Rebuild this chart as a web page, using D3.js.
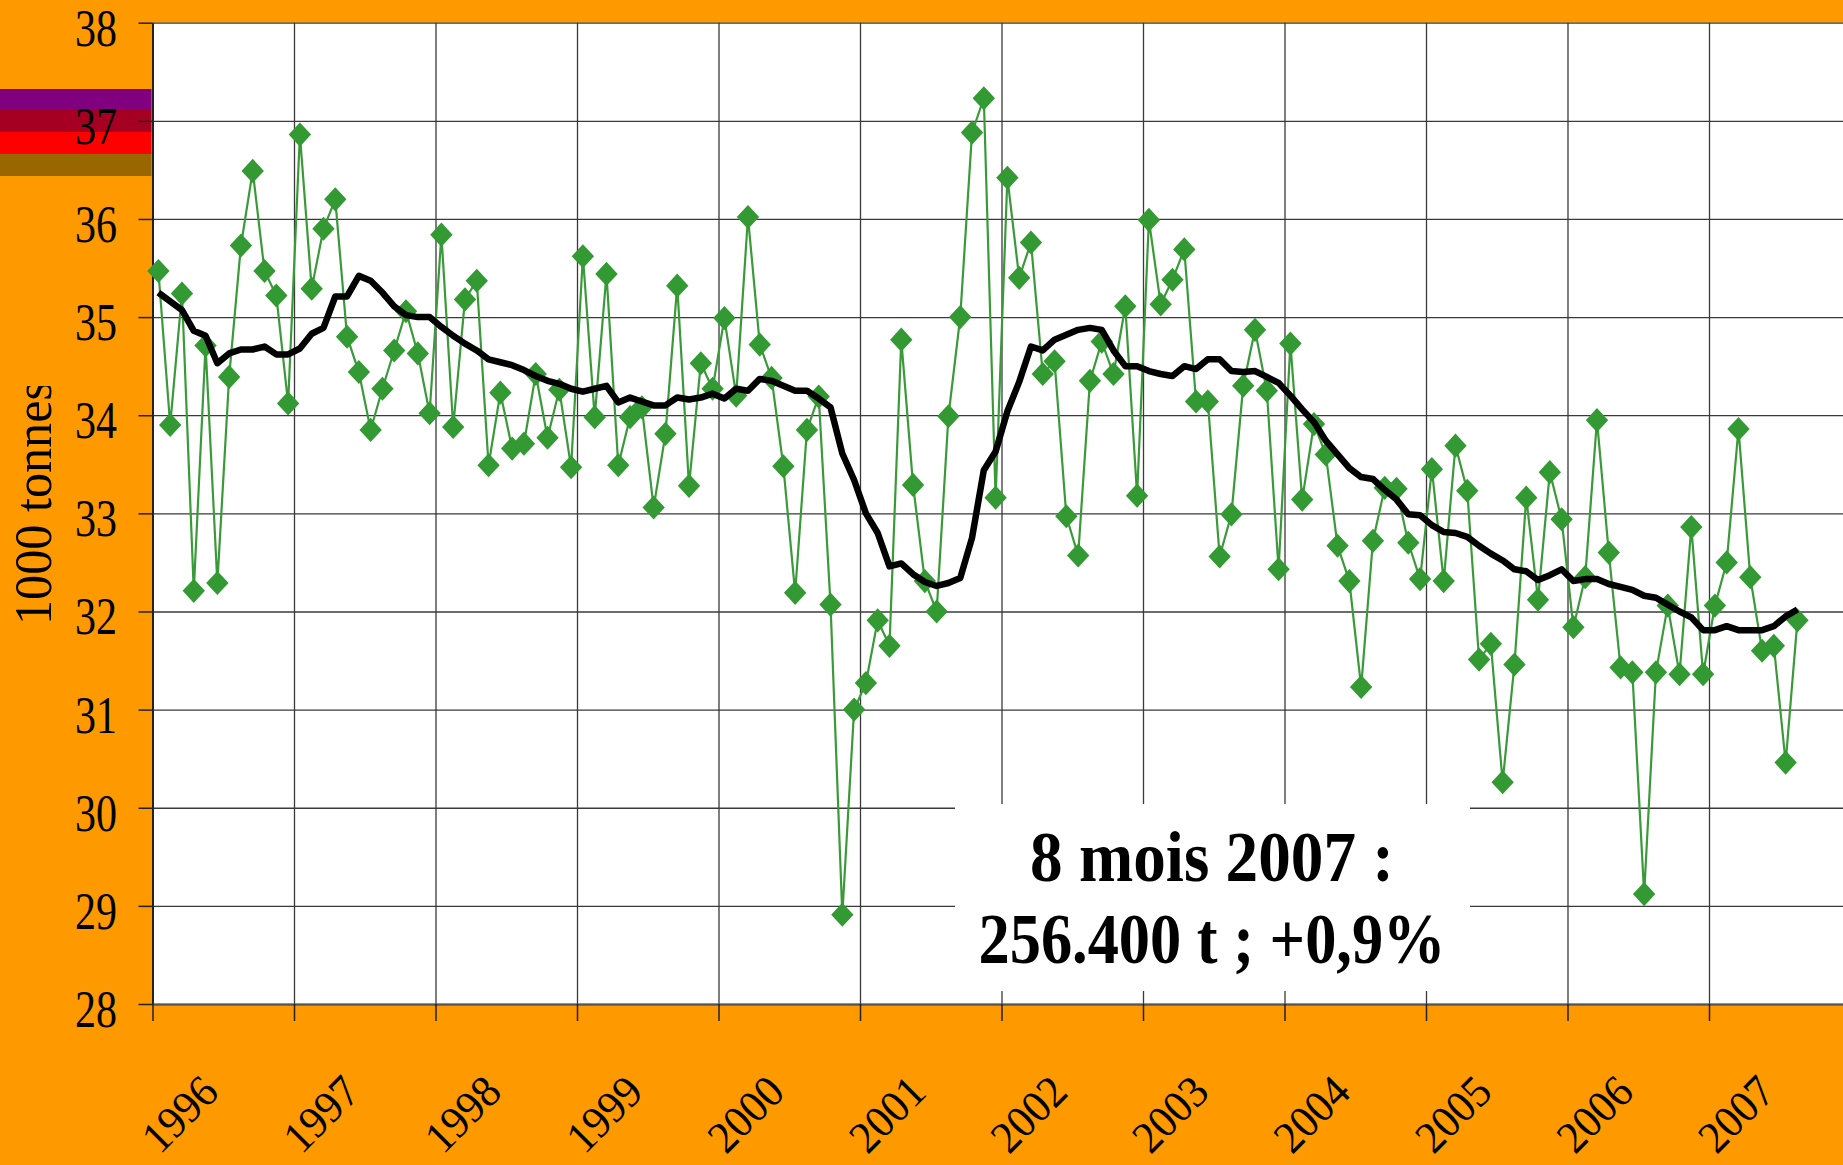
<!DOCTYPE html>
<html>
<head>
<meta charset="utf-8">
<script src="https://d3js.org/d3.v7.min.js"></script>
<style>
  body { margin: 0; background: #ff9900; }
  svg { display: block; }
</style>
</head>
<body>
<div class="vis"></div>
<script>
  // tick labels
  const years = ["1996", "1997", "1998", "1999", "2000", "2001", "2002", "2003", "2004", "2005", "2006", "2007"];
  const yTicks = [28, 29, 30, 31, 32, 33, 34, 35, 36, 37, 38];

  // monthly tonnage, Jan 1996 -> Aug 2007 (1000 t)
  const tonnage = [
    35.47, 33.90, 35.24, 32.21, 34.71, 32.29, 34.39, 35.73, 36.49, 35.47, 35.22, 34.12,
    36.86, 35.29, 35.90, 36.20, 34.80, 34.44, 33.85, 34.27, 34.66, 35.06, 34.63, 34.02,
    35.84, 33.88, 35.18, 35.37, 33.49, 34.23, 33.66, 33.71, 34.42, 33.77, 34.26, 33.47,
    35.62, 33.98, 35.44, 33.49, 33.98, 34.08, 33.06, 33.81, 35.32, 33.28, 34.53, 34.27,
    34.99, 34.20, 36.02, 34.72, 34.38, 33.48, 32.19, 33.85, 34.19, 32.07, 28.91, 31.00,
    31.27, 31.91, 31.65, 34.77, 33.29, 32.31, 32.00, 33.99, 35.00, 36.88, 37.23, 33.16,
    36.42, 35.40, 35.76, 34.42, 34.55, 32.97, 32.57, 34.35, 34.75, 34.42, 35.11, 33.18,
    35.99, 35.13, 35.38, 35.69, 34.14, 34.14, 32.56, 32.99, 34.30, 34.87, 34.25, 32.43,
    34.73, 33.14, 33.91, 33.60, 32.67, 32.31, 31.23, 32.72, 33.26, 33.25, 32.70, 32.33,
    33.45, 32.31, 33.69, 33.23, 31.51, 31.67, 30.26, 31.46, 33.16, 32.12, 33.42, 32.94,
    31.84, 32.35, 33.95, 32.60, 31.43, 31.38, 29.12, 31.38, 32.06, 31.36, 32.86, 31.36,
    32.06, 32.50, 33.86, 32.35, 31.60, 31.65, 30.46, 31.91
  ];

  // 12-month moving average
  const moyenne = [
    35.25, 35.16, 35.07, 34.86, 34.81, 34.53, 34.63, 34.67, 34.67, 34.70, 34.62, 34.62,
    34.68, 34.83, 34.89, 35.21, 35.21, 35.42, 35.37, 35.25, 35.11, 35.02, 35.00, 35.00,
    34.90, 34.81, 34.73, 34.66, 34.57, 34.54, 34.51, 34.46, 34.40, 34.35, 34.32, 34.27,
    34.24, 34.27, 34.30, 34.13, 34.18, 34.14, 34.10, 34.10, 34.18, 34.16, 34.18, 34.22,
    34.17, 34.27, 34.25, 34.37, 34.35, 34.30, 34.25, 34.25, 34.17, 34.08, 33.61, 33.34,
    33.00, 32.80, 32.46, 32.49, 32.38, 32.30, 32.26, 32.29, 32.34, 32.75, 33.44, 33.63,
    34.04, 34.34, 34.70, 34.66, 34.77, 34.82, 34.87, 34.89, 34.87, 34.66, 34.50, 34.50,
    34.45, 34.42, 34.40, 34.50, 34.47, 34.57, 34.57, 34.45, 34.44, 34.45, 34.39, 34.33,
    34.20, 34.06, 33.93, 33.74, 33.60, 33.46, 33.37, 33.35, 33.24, 33.14, 32.99, 32.98,
    32.88, 32.81, 32.80, 32.76, 32.67, 32.59, 32.52, 32.43, 32.41, 32.32, 32.37, 32.43,
    32.31, 32.33, 32.33, 32.28, 32.25, 32.22, 32.16, 32.14, 32.07, 32.00, 31.94, 31.81,
    31.81, 31.85, 31.81, 31.81, 31.81, 31.85, 31.95, 32.02
  ];

  const note = ["8 mois 2007 :", "256.400 t ; +0,9%"];
  const yTitle = "1000 tonnes";

  const W = 1843, H = 1165;
  const plotLeft = 152.5, plotTop = 22.7, plotBottom = 1004;
  const monthW = 141.5 / 12;
  const serif = "'Liberation Serif', 'Times New Roman', serif";

  const x = d3.scaleLinear().domain([0, 144]).range([plotLeft, plotLeft + 144 * monthW]);
  const y = d3.scaleLinear().domain([28, 38]).range([plotBottom, plotTop]);

  let svg = d3.select('.vis').append('svg')
    .attr("width", W).attr("height", H)
    .attr("viewBox", [0, 0, W, H]);

  svg.append("rect").attr("width", W).attr("height", H).attr("fill", "#ff9900");

  // plot area
  svg.append("rect")
    .attr("x", plotLeft).attr("y", plotTop)
    .attr("width", W - plotLeft).attr("height", plotBottom - plotTop)
    .attr("fill", "#fff");

  // leftover legend colour bands at the top left
  const bands = [["#800080", 89, 110], ["#a50021", 110, 132], ["#ff0000", 132, 154], ["#996600", 154, 176]];
  svg.selectAll("rect.band")
    .data(bands)
    .join("rect")
    .attr("class", "band")
    .attr("x", 0).attr("y", d => d[1])
    .attr("width", plotLeft - 1).attr("height", d => d[2] - d[1])
    .attr("fill", d => d[0]);

  // gridlines
  const yearIdx = years.map((d, i) => i * 12);
  svg.append("g")
    .attr("transform", `translate(${plotLeft},0)`)
    .call(d3.axisLeft(y).tickValues(yTicks).tickSize(-(W - plotLeft)).tickFormat(""))
    .call(g => g.select(".domain").remove())
    .call(g => g.selectAll("line").attr("stroke", "#3a3a3a").attr("stroke-width", 1.3));
  svg.append("g")
    .attr("transform", `translate(0,${plotTop})`)
    .call(d3.axisBottom(x).tickValues(yearIdx).tickSize(plotBottom - plotTop).tickFormat(""))
    .call(g => g.select(".domain").remove())
    .call(g => g.selectAll("line").attr("stroke", "#3a3a3a").attr("stroke-width", 1.3));

  // annotation box
  svg.append("rect")
    .attr("x", 955).attr("y", 804)
    .attr("width", 515).attr("height", 187)
    .attr("fill", "#fff");

  // y axis
  svg.append("g")
    .attr("transform", `translate(${plotLeft},0)`)
    .call(d3.axisLeft(y).tickValues(yTicks).tickSize(14).tickSizeOuter(0))
    .call(g => g.select(".domain").attr("stroke", "#222").attr("stroke-width", 2))
    .call(g => g.selectAll("line").attr("stroke", "#222").attr("stroke-width", 1.5))
    .call(g => g.selectAll("text")
      .attr("x", -35.5).attr("y", 22.5).attr("dy", null)
      .attr("text-anchor", "end")
      .attr("fill", "#000")
      .style("font-family", serif).style("font-size", "53px")
      .attr("textLength", 42).attr("lengthAdjust", "spacingAndGlyphs"));

  // x axis
  svg.append("g")
    .attr("transform", `translate(0,${plotBottom})`)
    .call(d3.axisBottom(x).tickValues(yearIdx).tickSize(17).tickSizeOuter(0)
      .tickFormat((d, i) => years[i]))
    .call(g => g.select(".domain").attr("stroke", "#555").attr("stroke-width", 2))
    .call(g => g.selectAll("line").attr("stroke", "#222").attr("stroke-width", 1.5))
    .call(g => g.selectAll("text")
      .attr("y", 0).attr("dy", "0.34em")
      .attr("text-anchor", "middle")
      .attr("transform", "translate(26.5,110) rotate(-45)")
      .attr("fill", "#000")
      .style("font-family", serif).style("font-size", "45px")
      .attr("textLength", 86).attr("lengthAdjust", "spacingAndGlyphs"));

  // y title, clipped at the top like the original
  svg.append("clipPath").attr("id", "titleClip")
    .append("rect").attr("x", 0).attr("y", 386).attr("width", plotLeft - 2).attr("height", H - 386);
  svg.append("g")
    .attr("clip-path", "url(#titleClip)")
    .append("text")
    .attr("transform", "translate(50.5,625) rotate(-90)")
    .attr("fill", "#000")
    .style("font-family", serif).style("font-size", "52px")
    .attr("textLength", 244).attr("lengthAdjust", "spacingAndGlyphs")
    .text(yTitle);

  // note text
  svg.selectAll("text.note")
    .data(note)
    .join("text")
    .attr("class", "note")
    .attr("x", 1212).attr("y", (d, i) => i === 0 ? 881 : 963)
    .attr("text-anchor", "middle")
    .attr("fill", "#000")
    .style("font-family", serif).style("font-weight", "bold").style("font-size", "71px")
    .attr("textLength", (d, i) => i === 0 ? 364 : 467)
    .attr("lengthAdjust", "spacingAndGlyphs")
    .text(d => d);

  // monthly series
  const plot = svg.append("g");
  plot.append("path")
    .datum(tonnage)
    .attr("d", d3.line().x((d, i) => x(i + 0.5)).y(d => y(d)))
    .attr("fill", "none")
    .attr("stroke", "#3a9a3a")
    .attr("stroke-width", 2.2);

  plot.selectAll("path.pt")
    .data(tonnage)
    .join("path")
    .attr("class", "pt")
    .attr("d", d3.symbol().type(d3.symbolSquare).size(250))
    .attr("transform", (d, i) => `translate(${x(i + 0.5)},${y(d)}) scale(1,1.08) rotate(45)`)
    .attr("fill", "#339933");

  // moving average
  plot.append("path")
    .datum(moyenne)
    .attr("d", d3.line().x((d, i) => x(i + 0.5)).y(d => y(d)))
    .attr("fill", "none")
    .attr("stroke", "#000")
    .attr("stroke-width", 6.5)
    .attr("stroke-linejoin", "round");
</script>
</body>
</html>
